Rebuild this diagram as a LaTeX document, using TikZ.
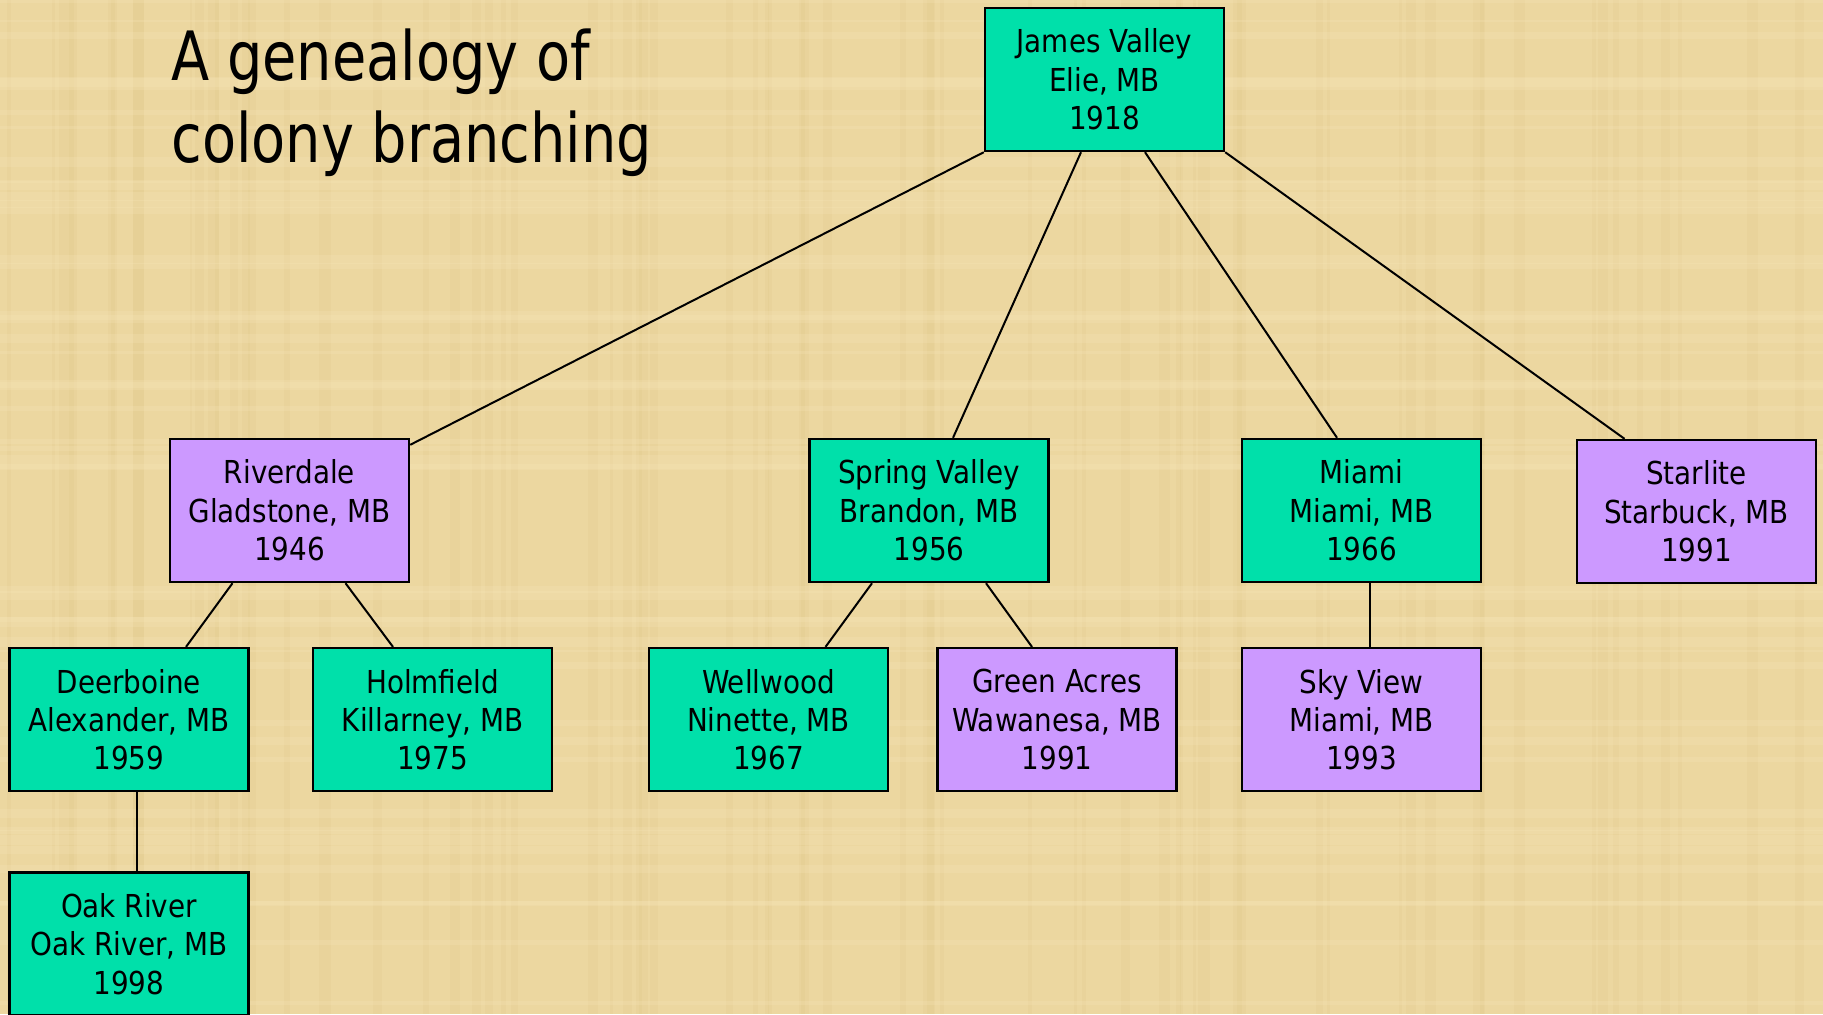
\documentclass[tikz,border=0pt]{standalone}
\usepackage{fontspec}
\setmainfont{DejaVu Sans}[FakeStretch=0.88]
\newfontfamily\titlefont{DejaVu Sans}[FakeStretch=0.82]
\usetikzlibrary{calc}
\definecolor{papyrus}{RGB}{236,215,160}
\definecolor{papdark}{RGB}{214,188,120}
\definecolor{paplight}{RGB}{246,230,185}
\definecolor{colgreen}{RGB}{0,224,170}
\definecolor{colpurple}{RGB}{204,153,255}
\tikzset{
  colbox/.style={draw=black, line width=1.2pt, minimum width=119.5pt, minimum height=71.5pt,
    inner sep=0pt, align=center, font=\fontsize{15.8}{19.2}\selectfont},
  oldbox/.style={colbox, fill=colgreen},
  newbox/.style={colbox, fill=colpurple},
  link/.style={draw=black, line width=1pt},
  titletext/.style={anchor=north west, inner sep=0pt, align=left, font=\titlefont\fontsize{34}{41}\selectfont}
}
\begin{document}
\begin{tikzpicture}[x=0.5pt, y=-0.5pt]
\clip (0,0) rectangle (1823,1014);
\fill[papyrus] (0,0) rectangle (1823,1014);
% subtle papyrus texture
\pgfmathsetseed{7}
\foreach \i in {1,...,70} {
  \pgfmathsetmacro{\xx}{rnd*1823}
  \pgfmathsetmacro{\ww}{2+rnd*10}
  \fill[papdark, opacity=0.12] (\xx,0) rectangle ++(\ww,1014);
}
\foreach \i in {1,...,50} {
  \pgfmathsetmacro{\yy}{rnd*1014}
  \pgfmathsetmacro{\hh}{2+rnd*8}
  \fill[paplight, opacity=0.25] (0,\yy) rectangle ++(1823,\hh);
}

\node[titletext] (title) at (171,28) {A genealogy of\\colony branching};

\node[oldbox] (jv) at (1104.5,79.5) {James Valley\\Elie, MB\\1918};
\node[newbox] (riv) at (289.5,510.5) {Riverdale\\Gladstone, MB\\1946};
\node[oldbox] (sv) at (929,510.5) {Spring Valley\\Brandon, MB\\1956};
\node[oldbox] (mia) at (1361.5,510.5) {Miami\\Miami, MB\\1966};
\node[newbox] (star) at (1696.5,511.5) {Starlite\\Starbuck, MB\\1991};
\node[oldbox] (deer) at (129,719.6) {Deerboine\\Alexander, MB\\1959};
\node[oldbox] (holm) at (432.5,719.6) {Holmfield\\Killarney, MB\\1975};
\node[oldbox] (well) at (768.5,719.6) {Wellwood\\Ninette, MB\\1967};
\node[newbox] (ga) at (1057,719.6) {Green Acres\\Wawanesa, MB\\1991};
\node[newbox] (sky) at (1361.5,719.6) {Sky View\\Miami, MB\\1993};
\node[oldbox] (oak) at (129,944) {Oak River\\Oak River, MB\\1998};

\draw[link] (jv.south west) -- ($(riv.north east)+(0,7)$);
\draw[link] ($(jv.south)+(-23.5,0)$) -- ($(sv.north)+(24,0)$);
\draw[link] ($(jv.south)+(40.5,0)$) -- ($(mia.north)+(-24.5,0)$);
\draw[link] (jv.south east) -- ($(star.north)+(-72,0)$);
\draw[link] ($(riv.south)+(-57,0)$) -- ($(deer.north)+(57,0)$);
\draw[link] ($(riv.south)+(56,0)$) -- ($(holm.north)+(-39.5,0)$);
\draw[link] ($(sv.south)+(-57,0)$) -- ($(well.north)+(57,0)$);
\draw[link] ($(sv.south)+(57,0)$) -- ($(ga.north)+(-25,0)$);
\draw[link] ($(mia.south)+(8,0)$) -- ($(sky.north)+(8,0)$);
\draw[link] ($(deer.south)+(8,0)$) -- ($(oak.north)+(8,0)$);
\end{tikzpicture}
\end{document}
